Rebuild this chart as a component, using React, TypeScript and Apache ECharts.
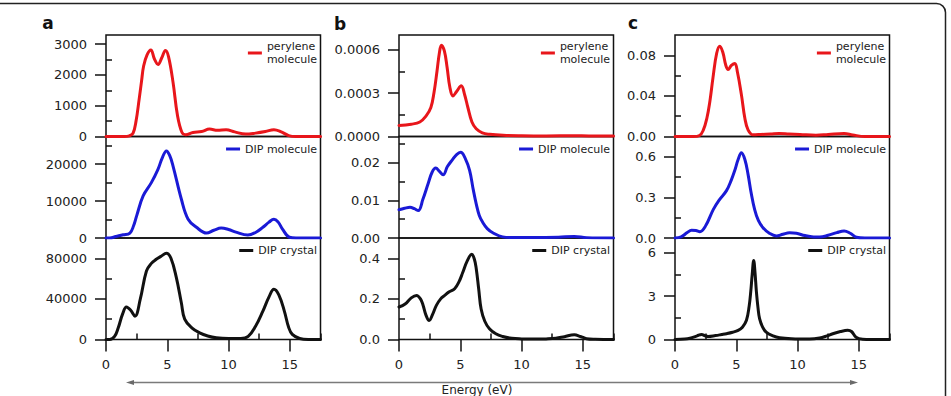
import { useEffect, useRef } from "react";
import * as echarts from "echarts";

const FONT = "DejaVu Sans";
const RED = "#e8161b";
const BLUE = "#1a1ad6";
const BLACK = "#111111";

// Energy axis (eV)
const energyMax = 17.5;
const energyTicks = [0, 5, 10, 15];
const energyMinorTicks = [2.5, 7.5, 12.5, 17.5];

// Panel a: [energy (eV), intensity]
const aPerylene = [
  [0, 0], [1.5, 0], [1.9, 20], [2.2, 100], [2.45, 500], [2.7, 1200], [2.9, 1800], [3.07, 2290], [3.35, 2650],
  [3.66, 2810], [3.95, 2520], [4.25, 2340], [4.55, 2560], [4.85, 2800], [5.1, 2600], [5.47, 1760],
  [5.83, 690], [6.2, 130], [6.5, 60], [7.1, 130], [7.8, 160], [8.45, 240], [9.1, 200], [9.8, 220],
  [10.5, 150], [11.4, 80], [12.2, 110], [13.0, 160], [13.7, 220], [14.3, 150], [14.9, 30], [15.5, 0], [17.5, 0],
];
const aDipMolecule = [
  [0, 0], [0.3, 0], [0.8, 400], [1.4, 870], [1.95, 1350], [2.25, 3300], [2.5, 6000], [3.03, 11400],
  [3.7, 15000], [4.24, 18600], [4.6, 21800], [4.93, 23600], [5.2, 22300], [5.47, 19500], [6.15, 10500],
  [6.7, 5100], [7.38, 2900], [8.2, 1350], [8.8, 2100], [9.4, 2700], [10.0, 2300], [10.6, 1600], [11.57, 800],
  [12.2, 1500], [12.8, 2900], [13.3, 4300], [13.7, 5100], [14.05, 4300], [14.4, 2430], [14.96, 200], [15.5, 0], [17.5, 0],
];
const aDipCrystal = [
  [0, 0], [0.3, 0], [0.7, 3000], [1.0, 11500], [1.35, 25000], [1.67, 32000], [2.0, 29000], [2.36, 23000],
  [2.8, 40000], [3.3, 67500], [3.7, 75000], [4.1, 79000], [4.5, 82000], [4.93, 85000], [5.3, 80000],
  [5.74, 61000], [6.15, 36000], [6.42, 20000], [7.0, 11500], [7.64, 6600], [8.3, 3500], [9.0, 1700],
  [10.0, 1000], [11.0, 1000], [11.6, 3000], [12.2, 13000], [12.8, 28000], [13.3, 42000], [13.7, 49500],
  [14.1, 44000], [14.55, 28000], [14.9, 12000], [15.2, 5000], [15.8, 1000], [16.5, 0], [17.5, 0],
];

// Panel b
const bPerylene = [
  [0, 0.000076], [1.0, 0.000085], [1.7, 0.0001], [2.2, 0.00014], [2.6, 0.0002], [2.85, 0.0003],
  [3.1, 0.00045], [3.3, 0.00058], [3.46, 0.00063], [3.7, 0.00059], [3.92, 0.00048], [4.15, 0.00034],
  [4.4, 0.00028], [4.7, 0.00031], [5.08, 0.00035], [5.35, 0.00029], [5.62, 0.0002], [5.95, 0.0001],
  [6.3, 0.000053], [6.8, 0.000025], [7.4, 0.000015], [8.5, 0.000008], [10, 0.000005], [12, 0.000004],
  [14.3, 0.000006], [15.5, 0.000004], [17.5, 0.000004],
];
const bDipMolecule = [
  [0, 0.0075], [0.45, 0.0079], [0.9, 0.0082], [1.25, 0.0078], [1.57, 0.0073], [1.95, 0.0103],
  [2.38, 0.0145], [2.7, 0.0175], [3.0, 0.0186], [3.3, 0.0177], [3.6, 0.0168], [3.95, 0.019],
  [4.35, 0.0208], [4.7, 0.0222], [5.03, 0.0228], [5.4, 0.0212], [5.76, 0.018], [6.05, 0.013],
  [6.3, 0.0091], [6.55, 0.006], [6.84, 0.0041], [7.2, 0.0025], [7.65, 0.0014], [8.46, 0.0003],
  [9.5, 0.0001], [11, 0.0001], [13, 0.0002], [14.3, 0.0004], [15.3, 0.0001], [17.5, 0],
];
const bDipCrystal = [
  [0, 0.16], [0.5, 0.175], [1.0, 0.205], [1.43, 0.217], [1.75, 0.2], [1.97, 0.168], [2.2, 0.12],
  [2.46, 0.094], [2.75, 0.125], [3.05, 0.168], [3.4, 0.2], [3.73, 0.217], [4.1, 0.235], [4.54, 0.25],
  [4.9, 0.285], [5.2, 0.33], [5.55, 0.385], [5.94, 0.42], [6.15, 0.395], [6.3, 0.35], [6.5, 0.25],
  [6.7, 0.15], [7.0, 0.09], [7.38, 0.053], [7.9, 0.028], [8.46, 0.015], [9.2, 0.006], [10, 0.003],
  [11, 0.002], [12, 0.003], [12.8, 0.006], [13.5, 0.014], [14.3, 0.023], [14.8, 0.015], [15.3, 0.004],
  [16, 0.001], [17.5, 0],
];

// Panel c
const cPerylene = [
  [0, 0], [1.5, 0], [2.0, 0.001], [2.3, 0.006], [2.6, 0.018], [2.85, 0.035], [3.1, 0.058], [3.4, 0.082],
  [3.66, 0.089], [3.9, 0.083], [4.15, 0.07], [4.33, 0.066], [4.6, 0.07], [4.88, 0.072], [5.1, 0.063],
  [5.42, 0.041], [5.7, 0.018], [5.96, 0.0066], [6.37, 0.0017], [7, 0.002], [7.8, 0.0025], [8.5, 0.003],
  [9.3, 0.0025], [10.2, 0.002], [11.5, 0.0012], [12.5, 0.002], [13.8, 0.003], [14.5, 0.0015], [15.5, 0], [17.5, 0],
];
const cDipMolecule = [
  [0, 0], [0.5, 0.008], [1.0, 0.04], [1.35, 0.057], [1.7, 0.055], [2.03, 0.047], [2.5, 0.09], [3.12, 0.21],
  [3.6, 0.28], [4.2, 0.35], [4.6, 0.43], [4.88, 0.5], [5.15, 0.58], [5.42, 0.63], [5.7, 0.58], [5.96, 0.47],
  [6.2, 0.34], [6.5, 0.21], [6.8, 0.13], [7.18, 0.076], [7.7, 0.035], [8.27, 0.015], [8.8, 0.028],
  [9.35, 0.039], [9.9, 0.035], [10.6, 0.018], [11.3, 0.008], [11.8, 0.007], [12.5, 0.02], [13.2, 0.04],
  [13.8, 0.052], [14.3, 0.035], [14.8, 0.006], [15.5, 0], [17.5, 0],
];
const cDipCrystal = [
  [0, 0], [0.8, 0.03], [1.22, 0.09], [1.8, 0.25], [2.17, 0.35], [2.45, 0.26], [2.7, 0.21], [3.3, 0.27],
  [3.8, 0.34], [4.2, 0.4], [4.7, 0.5], [5.15, 0.63], [5.5, 0.85], [5.83, 1.33], [6.05, 2.3], [6.18, 3.3],
  [6.3, 4.5], [6.42, 5.44], [6.53, 4.6], [6.64, 3.3], [6.77, 2.2], [6.9, 1.44], [7.15, 0.85], [7.44, 0.51],
  [8.0, 0.25], [8.54, 0.12], [9.5, 0.05], [10.98, 0.03], [11.8, 0.1], [12.4, 0.25], [12.87, 0.4],
  [13.5, 0.55], [14.09, 0.63], [14.4, 0.55], [14.77, 0.16], [15.3, 0.02], [16, 0], [17.5, 0],
];

// Intensity axes: max, major ticks, minor ticks, label decimals
const aPeryleneAxis = { max: 3300, major: [0, 1000, 2000, 3000], minor: [500, 1500, 2500], decimals: 0 };
const aMoleculeAxis = { max: 27500, major: [0, 10000, 20000], minor: [5000, 15000, 25000], decimals: 0 };
const aCrystalAxis = { max: 100000, major: [0, 40000, 80000], minor: [20000, 60000], decimals: 0 };
const bPeryleneAxis = { max: 0.0007, major: [0, 0.0003, 0.0006], minor: [0.00015, 0.00045], decimals: 4 };
const bMoleculeAxis = { max: 0.027, major: [0, 0.01, 0.02], minor: [0.005, 0.015, 0.025], decimals: 2 };
const bCrystalAxis = { max: 0.5, major: [0, 0.2, 0.4], minor: [0.1, 0.3], decimals: 1 };
const cPeryleneAxis = { max: 0.1, major: [0, 0.04, 0.08], minor: [0.02, 0.06], decimals: 2 };
const cMoleculeAxis = { max: 0.75, major: [0, 0.3, 0.6], minor: [0.15, 0.45], decimals: 1 };
const cCrystalAxis = { max: 7, major: [0, 3, 6], minor: [1.5, 4.5], decimals: 0 };

const panelLetters = ["a", "b", "c"];
const seriesNames = ["perylene\nmolecule", "DIP molecule", "DIP crystal"];
const seriesColors = [RED, BLUE, BLACK];

const columns = [
  { data: [aPerylene, aDipMolecule, aDipCrystal], axes: [aPeryleneAxis, aMoleculeAxis, aCrystalAxis] },
  { data: [bPerylene, bDipMolecule, bDipCrystal], axes: [bPeryleneAxis, bMoleculeAxis, bCrystalAxis] },
  { data: [cPerylene, cDipMolecule, cDipCrystal], axes: [cPeryleneAxis, cMoleculeAxis, cCrystalAxis] },
];

// Layout (px)
const colLeft = [106, 399, 675];
const colWidth = 214.5;
const rowTop = [35, 136.5, 238];
const rowHeight = 101.5;
const letterPos = [
  [48, 22.5],
  [340, 24],
  [633, 22.5],
];
const legendTop = [40, 142.5, 244];

function buildOption() {
  const grid: any[] = [];
  const xAxis: any[] = [];
  const yAxis: any[] = [];
  const series: any[] = [];
  const legend: any[] = [];
  const textStyle = { fontFamily: FONT, fontSize: 13, color: "#222" };
  const tickLine = { color: "#111", width: 1.5 };

  columns.forEach((col, c) => {
    col.data.forEach((data, r) => {
      const gi = grid.length;
      const ax = col.axes[r];
      grid.push({
        left: colLeft[c],
        top: rowTop[r],
        width: colWidth,
        height: rowHeight,
        show: true,
        borderColor: "#111",
        borderWidth: 1.5,
        backgroundColor: "transparent",
        containLabel: false,
      });
      const bottomRow = r === 2;
      // energy axis: labelled major ticks
      xAxis.push({
        type: "value",
        gridIndex: gi,
        min: 0,
        max: energyMax,
        show: bottomRow,
        axisLine: { show: false },
        splitLine: { show: false },
        axisTick: { show: true, customValues: energyTicks, length: 12, lineStyle: tickLine },
        axisLabel: { customValues: energyTicks, margin: 19, lineHeight: 12, ...textStyle },
      });
      // energy axis: minor ticks
      xAxis.push({
        type: "value",
        gridIndex: gi,
        min: 0,
        max: energyMax,
        show: bottomRow,
        axisLine: { show: false },
        splitLine: { show: false },
        axisTick: { show: true, customValues: energyMinorTicks, length: 6, lineStyle: tickLine },
        axisLabel: { show: false },
      });
      // intensity axis: labelled major ticks
      yAxis.push({
        type: "value",
        gridIndex: gi,
        min: 0,
        max: ax.max,
        axisLine: { show: false },
        splitLine: { show: false },
        axisTick: { show: true, customValues: ax.major, length: 11, lineStyle: tickLine },
        axisLabel: {
          customValues: ax.major,
          margin: 19,
          lineHeight: 11,
          formatter: (v: number) => v.toFixed(ax.decimals),
          ...textStyle,
        },
      });
      // intensity axis: minor ticks
      yAxis.push({
        type: "value",
        gridIndex: gi,
        min: 0,
        max: ax.max,
        axisLine: { show: false },
        splitLine: { show: false },
        axisTick: { show: true, customValues: ax.minor, length: 6, lineStyle: tickLine },
        axisLabel: { show: false },
      });
      series.push({
        type: "line",
        name: seriesNames[r],
        xAxisIndex: gi * 2,
        yAxisIndex: gi * 2,
        data,
        showSymbol: false,
        symbol: "none",
        smooth: 0.4,
        color: seriesColors[r],
        lineStyle: { width: 3, color: seriesColors[r], join: "round", cap: "round" },
        z: 3,
      });
      legend.push({
        data: [{ name: seriesNames[r], icon: "rect" }],
        right: 951 - (colLeft[c] + colWidth) + 3.5,
        top: legendTop[r],
        itemWidth: 14,
        itemHeight: 3,
        padding: 0,
        selectedMode: false,
        textStyle: { fontFamily: FONT, fontSize: 11, color: "#222", lineHeight: 13 },
      });
    });
  });

  const graphic: any[] = [
    {
      type: "rect",
      shape: { x: -10, y: 3.5, width: 955.5, height: 430, r: 9 },
      style: { fill: "none", stroke: "#222", lineWidth: 1.5 },
      silent: true,
    },
    {
      type: "line",
      shape: { x1: 131, y1: 382.5, x2: 853, y2: 382.5 },
      style: { stroke: "#7a7a7a", lineWidth: 1.3 },
      silent: true,
    },
    {
      type: "polygon",
      shape: { points: [[126, 382.5], [134, 380], [134, 385]] },
      style: { fill: "#6a6a6a" },
      silent: true,
    },
    {
      type: "polygon",
      shape: { points: [[858, 382.5], [850, 380], [850, 385]] },
      style: { fill: "#6a6a6a" },
      silent: true,
    },
    {
      type: "text",
      x: 477,
      y: 384.5,
      style: {
        text: "Energy (eV)",
        font: `12px "${FONT}"`,
        lineHeight: 11,
        fill: "#222",
        textAlign: "center",
        textVerticalAlign: "top",
      },
      silent: true,
    },
  ];
  panelLetters.forEach((t, i) => {
    graphic.push({
      type: "text",
      x: letterPos[i][0],
      y: letterPos[i][1],
      style: {
        text: t,
        font: `bold 17px "${FONT}"`,
        fill: "#111",
        textAlign: "center",
        textVerticalAlign: "middle",
      },
      silent: true,
    });
  });

  return {
    animation: false,
    backgroundColor: "#ffffff",
    textStyle: { fontFamily: FONT },
    grid,
    xAxis,
    yAxis,
    series,
    legend,
    graphic,
  };
}

export default function App() {
  const ref = useRef<HTMLDivElement>(null);
  useEffect(() => {
    if (!ref.current) return;
    const chart = echarts.init(ref.current, null, { renderer: "svg" });
    chart.setOption(buildOption() as any);
    return () => chart.dispose();
  }, []);
  return (
    <div
      ref={ref}
      style={{ position: "absolute", left: 0, top: 0, width: 951, height: 396, background: "#fff" }}
    />
  );
}
